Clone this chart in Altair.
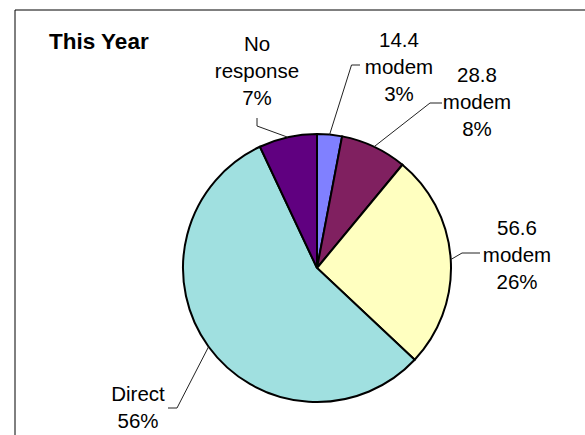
import math
import altair as alt
import pandas as pd

# ---- data ----
TITLE = "This Year"
categories = ["14.4 modem", "28.8 modem", "56.6 modem", "Direct", "No response"]
percents = [3, 8, 26, 56, 7]
colors = ["#8080FF", "#802060", "#FFFFC0", "#A0E0E0", "#600080"]

# ---- layout (pixels) ----
W, H = 585, 435
CX, CY, R = 317, 268, 134
FONT = "Liberation Sans"
# label anchor (center x, first-line baseline y)
label_pos = [(399, 47), (477, 82), (517, 235), (138, 401), (257, 51)]
# leader line elbow and end points
elbows = [(351.5, 65), (430, 103), (462, 253), (177, 408), (257, 126)]
ends = [(360, 65), (442, 103), (480, 253), (168, 408), (257, 118)]

pie_df = pd.DataFrame({
    "category": categories,
    "value": percents,
    "order": list(range(len(categories))),
})

# label texts built from the data
total = sum(percents)
lab_rows = []
line_rows = []
cum = 0
for i, (cat, v) in enumerate(zip(categories, percents)):
    text = "\n".join(cat.split(" ") + [f"{round(100 * v / total)}%"])
    lab_rows.append({"text": text, "x": label_pos[i][0], "y": label_pos[i][1]})
    mid = 2 * math.pi * (cum + v / 2) / total
    cum += v
    ex, ey = CX + R * math.sin(mid), CY - R * math.cos(mid)
    pts = [(ex, ey), elbows[i], ends[i]]
    for k, (px, py) in enumerate(pts):
        line_rows.append({"cat": cat, "k": k, "x": px, "y": py})

lab_df = pd.DataFrame(lab_rows)
line_df = pd.DataFrame(line_rows)

dummy = alt.Data(values=[{}])

pie = alt.Chart(pie_df).mark_arc(
    outerRadius=R, stroke="black", strokeWidth=2
).encode(
    theta=alt.Theta("value:Q", stack=True),
    order=alt.Order("order:Q"),
    color=alt.Color("category:N", scale=alt.Scale(domain=categories, range=colors), legend=None),
    x=alt.value(CX),
    y=alt.value(CY),
)

leaders = alt.Chart(line_df).mark_line(color="#222222", strokeWidth=1).encode(
    x=alt.X("x:Q", scale=None),
    y=alt.Y("y:Q", scale=None),
    detail="cat:N",
    order="k:Q",
)

labels = alt.Chart(lab_df).mark_text(
    font=FONT, fontSize=20.5, lineHeight=27, lineBreak="\n",
    align="center", baseline="alphabetic", color="black"
).encode(
    x=alt.X("x:Q", scale=None),
    y=alt.Y("y:Q", scale=None),
    text="text:N",
)

title = alt.Chart(dummy).mark_text(
    text=TITLE, font=FONT, fontSize=22.5, fontWeight="bold",
    align="left", baseline="alphabetic", color="black"
).encode(x=alt.value(49), y=alt.value(49))

frame_top = alt.Chart(dummy).mark_rule(color="black", strokeWidth=1).encode(
    x=alt.value(15), x2=alt.value(W), y=alt.value(10)
)
frame_left = alt.Chart(dummy).mark_rule(color="black", strokeWidth=1).encode(
    x=alt.value(15), y=alt.value(10), y2=alt.value(H)
)

chart = alt.layer(frame_top, frame_left, pie, leaders, labels, title).properties(
    width=W, height=H, padding=0, autosize=alt.AutoSizeParams(type="none"),
    background="white",
).configure_view(stroke=None)

chart.save("out.html", embed_options={"renderer": "svg", "actions": False})
